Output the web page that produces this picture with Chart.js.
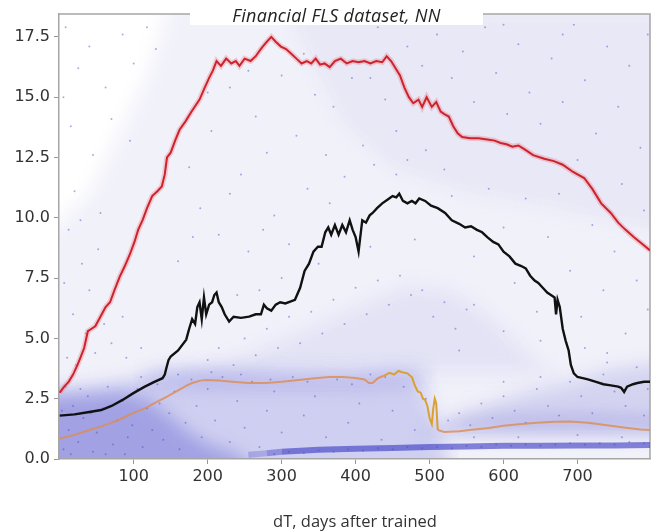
<!DOCTYPE html>
<html>
<head>
<meta charset="utf-8">
<script src="https://cdn.jsdelivr.net/npm/chart.js@4/dist/chart.umd.min.js"></script>
<style>
  body { margin: 0; background: #fff; }
  #wrap { position: relative; width: 654px; height: 532px; }
  #plotTitle {
    position: absolute; left: 190px; top: 3px; width: 293px; height: 22px;
    background: #fff; text-align: center; line-height: 22px;
    font: italic 18px "Open Sans", sans-serif; letter-spacing: 0.3px; color: #222;
  }
  #xLabel {
    position: absolute; left: 355px; top: 509px; transform: translateX(-50%);
    white-space: nowrap; font: 16.5px "Open Sans", sans-serif; color: #333;
  }
</style>
</head>
<body>
<div id="wrap">
  <canvas id="chart" width="654" height="532"></canvas>
  <div id="plotTitle">Financial FLS dataset, NN</div>
  <div id="xLabel">dT, days after trained</div>
</div>
<script>
// axis ticks
const xTicks = [100, 200, 300, 400, 500, 600, 700];
const yTicks = [0, 2.5, 5, 7.5, 10, 12.5, 15, 17.5];

// running curves, [day, value]
const redCurve = [[0,2.75],[6,3.0],[12,3.2],[18,3.5],[24,3.9],[28,4.2],[33,4.6],[38,5.3],[43,5.4],[48,5.5],[55,5.9],[62,6.3],[68,6.5],[74,7.0],[81,7.55],[88,8.0],[95,8.5],[101,9.0],[106,9.5],[112,9.9],[118,10.4],[125,10.9],[132,11.1],[138,11.3],[142,11.8],[145,12.5],[150,12.7],[156,13.2],[162,13.65],[170,14.0],[178,14.4],[189,14.9],[196,15.4],[202,15.8],[207,16.1],[212,16.5],[218,16.3],[225,16.6],[232,16.4],[238,16.5],[243,16.3],[250,16.6],[258,16.5],[265,16.7],[272,17.0],[280,17.3],[286,17.5],[292,17.3],[299,17.1],[306,17.0],[313,16.8],[320,16.6],[327,16.4],[334,16.5],[340,16.4],[346,16.6],[352,16.35],[358,16.4],[365,16.25],[372,16.5],[380,16.6],[388,16.4],[396,16.5],[404,16.45],[412,16.5],[420,16.4],[428,16.5],[436,16.45],[442,16.7],[448,16.5],[454,16.2],[460,15.9],[466,15.4],[472,15.0],[478,14.75],[485,14.9],[490,14.6],[496,15.0],[503,14.6],[509,14.8],[515,14.4],[520,14.3],[526,14.2],[532,13.8],[538,13.5],[544,13.35],[555,13.3],[566,13.3],[578,13.25],[588,13.2],[596,13.1],[604,13.05],[612,12.95],[620,13.0],[628,12.85],[640,12.6],[655,12.45],[668,12.35],[680,12.2],[694,11.9],[709,11.65],[720,11.2],[732,10.6],[745,10.2],[755,9.8],[765,9.5],[776,9.2],[788,8.9],[798,8.65]];

const blackCurve = [[0,1.8],[20,1.85],[40,1.95],[56,2.03],[70,2.2],[85,2.45],[99,2.72],[115,3.0],[128,3.2],[139,3.35],[142,3.5],[144,3.75],[147,4.1],[150,4.25],[160,4.5],[171,4.95],[175,5.4],[179,5.8],[183,5.6],[186,6.3],[189,6.5],[192,5.8],[195,6.7],[198,6.0],[202,6.4],[206,6.5],[209,6.8],[212,6.9],[215,6.5],[219,6.3],[223,6.0],[229,5.7],[235,5.9],[245,5.85],[256,5.9],[265,6.0],[272,6.0],[276,6.4],[280,6.25],[286,6.15],[292,6.4],[298,6.5],[305,6.45],[318,6.6],[325,7.1],[331,7.8],[337,8.1],[343,8.6],[349,8.8],[354,8.8],[359,9.4],[363,9.6],[367,9.3],[372,9.7],[377,9.3],[382,9.7],[387,9.4],[392,9.9],[396,9.5],[400,9.2],[404,8.6],[409,9.9],[414,9.8],[419,10.1],[423,10.2],[429,10.4],[436,10.6],[443,10.75],[450,10.9],[455,10.85],[459,11.0],[464,10.7],[470,10.6],[476,10.7],[481,10.6],[486,10.8],[494,10.7],[502,10.5],[511,10.4],[521,10.2],[530,9.9],[540,9.75],[548,9.6],[556,9.65],[564,9.5],[571,9.4],[578,9.2],[586,9.0],[593,8.9],[600,8.6],[608,8.4],[616,8.1],[624,8.0],[630,7.9],[636,7.6],[642,7.4],[647,7.3],[653,7.1],[659,6.9],[664,6.8],[669,6.7],[671,6.0],[673,6.6],[676,6.3],[680,5.4],[684,4.9],[688,4.5],[691,3.9],[695,3.55],[700,3.4],[707,3.35],[714,3.3],[725,3.2],[735,3.1],[745,3.05],[755,3.0],[759,2.95],[763,2.78],[767,3.0],[775,3.1],[781,3.15],[790,3.2],[798,3.2]];

const orangeCurve = [[0,0.85],[20,1.0],[40,1.2],[54,1.33],[70,1.5],[85,1.7],[99,1.9],[115,2.1],[130,2.35],[144,2.57],[160,2.85],[172,3.05],[179,3.15],[190,3.25],[198,3.28],[215,3.25],[233,3.2],[255,3.15],[279,3.15],[300,3.2],[323,3.28],[345,3.35],[364,3.4],[383,3.4],[400,3.36],[412,3.3],[418,3.15],[423,3.15],[430,3.35],[438,3.45],[446,3.57],[452,3.5],[458,3.65],[463,3.6],[470,3.55],[476,3.4],[480,3.05],[484,2.8],[488,2.75],[491,2.5],[494,2.45],[497,2.2],[500,1.7],[503,1.45],[505,2.1],[507,2.5],[509,2.3],[511,1.2],[520,1.12],[540,1.15],[560,1.22],[580,1.29],[600,1.38],[624,1.45],[645,1.5],[669,1.54],[690,1.55],[714,1.5],[740,1.4],[765,1.3],[785,1.22],[798,1.2]];

// the thin, crowded run of samples just above zero
const floorCurve = [[255,0.18],[280,0.24],[300,0.3],[350,0.38],[400,0.42],[450,0.46],[500,0.5],[550,0.52],[600,0.55],[650,0.55],[700,0.56],[750,0.56],[798,0.58]];

// individual samples, [day, value]
const samples = [
  [8,17.9],[25,16.2],[40,17.1],[62,15.4],[85,17.6],[100,16.4],[118,17.9],[15,13.8],[45,12.6],[70,14.1],[95,13.2],[20,11.1],[55,10.2],[130,17.0],[5,15.0],
  [10,4.2],[18,6.0],[30,8.1],[12,9.5],[35,5.2],[6,7.3],[22,3.9],[48,4.4],[60,5.6],[40,7.0],[70,4.8],[85,5.9],[28,9.9],[52,8.7],[90,4.2],[110,4.6],
  [160,8.2],[175,12.1],[190,10.4],[205,13.6],[215,9.3],[230,15.4],[245,11.8],[255,8.6],[265,14.2],[280,12.7],[290,10.1],[300,15.9],[310,8.9],[320,13.4],[335,11.2],[345,15.1],[360,12.6],[370,14.6],[385,11.7],[395,15.8],[410,13.0],[425,12.2],[440,14.9],[455,13.6],[470,12.4],[200,15.2],[255,16.1],[330,16.8],[420,15.8],[365,10.6],[230,11.0],[180,9.2],[275,9.5],[455,11.8],[495,12.8],[520,12.0],
  [430,17.9],[450,18.2],[470,17.1],[490,16.3],[510,17.6],[530,15.8],[545,16.9],[560,14.8],[575,17.9],[590,16.0],[605,14.3],[620,17.2],[635,15.2],[650,13.9],[665,16.6],[680,14.8],[695,18.0],[710,15.7],[725,13.5],[740,17.1],[755,14.6],[770,16.3],[785,12.9],[795,17.6],[700,12.4],[760,11.4],[790,10.3],[550,18.3],[600,18.0],[680,17.6],[480,14.8],
  [530,10.9],[560,8.4],[580,11.2],[600,9.6],[615,7.3],[630,10.8],[645,6.1],[660,9.2],[675,11.0],[690,7.8],[705,5.9],[720,9.7],[735,7.0],[750,8.6],[765,5.2],[780,7.4],[795,6.2],[710,4.6],[740,4.4],[650,4.9],[600,5.3],[560,6.4],[540,4.5],
  [200,4.1],[215,4.6],[235,3.9],[250,5.0],[265,4.3],[280,5.4],[295,4.6],[310,5.9],[325,4.8],[340,6.1],[355,5.2],[370,6.6],[385,5.6],[400,7.1],[415,6.0],[430,7.4],[445,6.4],[460,7.6],[475,6.8],[490,7.0],[505,5.9],[520,6.5],[535,5.4],[550,6.2],[300,7.5],[240,6.8],[350,8.1],[420,8.8],[480,9.1],[270,7.0],
  [5,0.4],[12,1.2],[18,2.2],[25,0.7],[32,1.7],[38,2.6],[45,0.3],[50,1.1],[58,2.1],[65,3.0],[72,0.6],[78,1.6],[85,2.4],[92,0.9],[98,1.4],[105,2.9],[112,0.5],[118,2.1],[125,1.2],[132,3.1],[140,0.8],[148,1.9],[155,2.8],[162,0.4],[170,1.5],[178,3.3],[185,2.2],[192,0.9],[200,2.9],[210,1.6],[220,3.4],[230,0.7],[240,2.4],[250,1.3],[260,3.2],[270,0.5],[280,2.0],[290,2.8],[300,1.1],[315,3.4],[330,1.8],[345,2.6],[360,0.9],[375,3.3],[390,1.5],[405,2.3],[420,3.5],[435,0.8],[450,2.0],[465,3.0],[480,1.2],[495,2.5],[3,2.0],[8,3.0],[15,0.2],[28,2.9],[42,1.9],[62,0.2],[88,0.2],[110,3.4],[135,2.3],[160,3.5],[205,3.6],[245,3.5],[285,3.3],[335,3.2],[395,3.1],[440,3.4],
  [290,0.2],[310,0.3],[330,0.25],[350,0.35],[370,0.3],[390,0.4],[410,0.35],[430,0.45],[450,0.4],[470,0.5],[490,0.45],[510,0.5],[530,0.45],[550,0.55],[570,0.5],[590,0.6],[610,0.55],[630,0.6],[650,0.55],[670,0.6],[690,0.65],[710,0.6],[730,0.65],[750,0.6],[770,0.7],[790,0.65],
  [525,1.6],[540,1.9],[555,1.4],[570,2.3],[585,1.7],[600,2.6],[615,2.0],[630,1.5],[645,2.9],[660,2.2],[675,1.8],[690,3.2],[705,2.6],[720,1.9],[735,3.5],[750,2.8],[765,2.2],[780,3.8],[795,2.9],[560,0.9],[620,0.9],[700,1.0],[760,0.9],[650,3.4],[740,4.0],[600,3.2],[790,1.8]
];

// outlines of where the samples pile up densely
const hazeTop = [[-30,9],[40,11],[80,13.5],[120,16],[160,20],[830,20]];
const lowCloudTop = [[-30,2.8],[30,3.0],[70,3.15],[110,3.4],[140,3.6],[180,3.65],[220,3.6],[300,3.5],[380,3.45],[450,3.6],[480,3.5],[500,2.4],[515,0.8],[540,-1]];
const leftCloudTop = [[-30,2.6],[40,2.7],[80,2.8],[110,2.6],[140,2.0],[170,1.2],[200,0.6],[240,0.2],[280,-1]];
const stripTop = [[100,3.2],[130,3.65],[200,3.75],[300,3.65],[400,3.6],[480,3.75],[510,3.3]];
const stripBottom = [[100,3.2],[130,3.0],[200,2.9],[300,2.9],[400,2.9],[480,3.1],[510,3.3]];
const wedgeTop = [[470,1.1],[512,1.3],[540,1.8],[580,2.3],[620,2.7],[660,3.0],[700,3.3],[740,3.7],[830,4.1]];
const wedgeCore = [[480,1.1],[515,1.3],[530,1.55],[600,1.75],[700,1.85],[830,1.7]];
const midCloudTop = [[160,3.5],[190,3.7],[250,4.3],[300,5.0],[350,5.6],[400,6.3],[470,7.2],[530,7.0],[580,6.0],[620,4.8],[650,3.9],[680,3.5]];
const upperCloudBottom = [[300,19],[380,14],[450,12],[550,11],[650,10.5],[830,9.3]];

const toPoints = arr => arr.map(([x, y]) => ({ x: x, y: y }));

const datasets = [];

function addCurve(arr, color, width, order, segment) {
  datasets.push({
    data: toPoints(arr), borderColor: color, borderWidth: width,
    pointRadius: 0, fill: false, order: order, segment: segment
  });
  return datasets.length - 1;
}

function addArea(arr, color, fill, order) {
  datasets.push({
    data: toPoints(arr), borderWidth: 0, borderColor: 'transparent',
    backgroundColor: color, pointRadius: 0, fill: fill, order: order
  });
  return datasets.length - 1;
}

// orange curve reads gold where it leaves the crowded band
const orangeTone = {
  borderColor: ctx => (ctx.p0.parsed.x >= 436 && ctx.p1.parsed.x <= 512)
    ? 'rgb(218,160,50)' : 'rgba(222,140,80,0.8)'
};
// the floor run thins out towards its left end
const floorTone = {
  borderColor: ctx => ctx.p1.parsed.x <= 280 ? 'rgba(55,55,195,0.25)'
    : ctx.p1.parsed.x <= 300 ? 'rgba(55,55,195,0.42)' : 'rgba(55,55,195,0.6)'
};

addCurve(blackCurve, '#111111', 2.4, 0);
addCurve(redCurve, 'rgb(205,35,45)', 2, 1);
addCurve(orangeCurve, 'rgba(222,140,80,0.8)', 2, 2, orangeTone);
addCurve(redCurve, 'rgba(235,110,120,0.3)', 5.5, 3);

datasets.push({
  data: toPoints(samples), showLine: false, pointRadius: 1, borderWidth: 0,
  pointBackgroundColor: 'rgba(70,70,190,0.45)', order: 4
});
addCurve(floorCurve, 'rgba(55,55,195,0.6)', 6, 5, floorTone);

const below = { value: -1 };
addArea(hazeTop, 'rgba(150,150,215,0.13)', below, 20);
addArea(upperCloudBottom, 'rgba(140,140,215,0.09)', 'end', 19);
addArea(lowCloudTop, 'rgba(100,100,215,0.24)', below, 18);
addArea(leftCloudTop, 'rgba(80,80,205,0.36)', below, 17);
addArea(midCloudTop, 'rgba(130,130,215,0.12)', { value: 3.5 }, 16);
const stripIdx = addArea(stripBottom, 'transparent', false, 15);
addArea(stripTop, 'rgba(100,100,215,0.22)', stripIdx, 14);
addArea(wedgeTop, 'rgba(120,120,215,0.24)', { value: 1.1 }, 13);
addArea(wedgeCore, 'rgba(90,90,200,0.26)', { value: 1.1 }, 12);

// the density fills are painted soft, everything after them sharp
const softFill = {
  id: 'softFill',
  beforeRender(chart) { chart.ctx.filter = 'blur(9px)'; },
  beforeDraw(chart) { chart.ctx.filter = 'none'; }
};

// top and right edges of the plot frame
const frame = {
  id: 'frame',
  beforeDatasetsDraw(chart) {
    const a = chart.chartArea, c = chart.ctx;
    c.save();
    c.strokeStyle = '#a6a6a6';
    c.lineWidth = 1.5;
    c.beginPath();
    c.moveTo(a.left, a.top);
    c.lineTo(a.right, a.top);
    c.lineTo(a.right, a.bottom);
    c.stroke();
    c.restore();
  }
};

const tickFont = { family: 'DejaVu Sans', size: 16 };

new Chart(document.getElementById('chart'), {
  type: 'line',
  data: { datasets: datasets },
  options: {
    responsive: false,
    animation: false,
    layout: { padding: { top: 14, right: 1, left: 0, bottom: 0 } },
    elements: { line: { tension: 0 } },
    plugins: {
      legend: { display: false },
      tooltip: { enabled: false },
      filler: { propagate: false, drawTime: 'beforeDraw' }
    },
    scales: {
      x: {
        type: 'linear', min: -1, max: 798,
        afterBuildTicks: s => { s.ticks = xTicks.map(v => ({ value: v })); },
        afterFit: s => { s.height = 73; },
        ticks: { font: tickFont, color: '#333', padding: 3, maxRotation: 0, callback: v => String(v) },
        grid: { drawOnChartArea: false, tickLength: 5, color: '#999' },
        border: { color: '#a6a6a6', width: 1.5 }
      },
      y: {
        type: 'linear', min: 0, max: 18.45,
        afterBuildTicks: s => { s.ticks = yTicks.map(v => ({ value: v })); },
        afterFit: s => { s.width = 59; },
        ticks: { font: tickFont, color: '#333', padding: 4, callback: v => v.toFixed(1) },
        grid: { drawOnChartArea: false, tickLength: 5, color: '#999' },
        border: { color: '#a6a6a6', width: 1.5 }
      }
    }
  },
  plugins: [softFill, frame]
});
</script>
</body>
</html>
